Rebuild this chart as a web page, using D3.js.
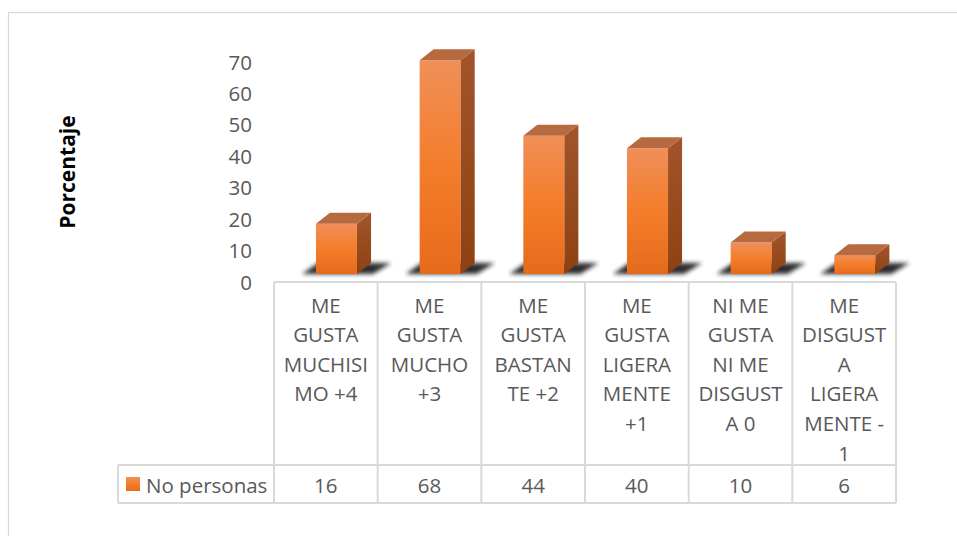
<!DOCTYPE html>
<html><head><meta charset="utf-8">
<script src="https://cdn.jsdelivr.net/npm/d3@7/dist/d3.min.js"></script>
<style>
html,body{margin:0;padding:0;background:#fff;}
svg{display:block;font-family:"Open Sans",sans-serif;}
</style></head>
<body>
<svg id="chart" width="957" height="536"></svg>
<script>
const categories = [
  "ME\nGUSTA\nMUCHISI\nMO +4",
  "ME\nGUSTA\nMUCHO\n+3",
  "ME\nGUSTA\nBASTAN\nTE +2",
  "ME\nGUSTA\nLIGERA\nMENTE\n+1",
  "NI ME\nGUSTA\nNI ME\nDISGUST\nA 0",
  "ME\nDISGUST\nA\nLIGERA\nMENTE -\n1"
];
const values = [16, 68, 44, 40, 10, 6];
const yTicks = [0, 10, 20, 30, 40, 50, 60, 70];
const seriesName = "No personas";
const axisTitle = "Porcentaje";

const svg = d3.select("#chart");
const W = 957, H = 536;
const textColor = "#595959";
const gridColor = "#d9d9d9";
const FS = 20.5;

// frame
svg.append("rect").attr("x", 8.5).attr("y", 12.5).attr("width", W + 10).attr("height", H + 10)
  .attr("fill", "#fff").attr("stroke", gridColor).attr("stroke-width", 1.2);

const defs = svg.append("defs");
const gf = defs.append("linearGradient").attr("id", "gFront").attr("x1", 0).attr("y1", 0).attr("x2", 0).attr("y2", 1);
gf.append("stop").attr("offset", "0%").attr("stop-color", "#f08f58");
gf.append("stop").attr("offset", "50%").attr("stop-color", "#f47d2b");
gf.append("stop").attr("offset", "100%").attr("stop-color", "#e46b1b");
const gs = defs.append("linearGradient").attr("id", "gSide").attr("x1", 0).attr("y1", 0).attr("x2", 0).attr("y2", 1);
gs.append("stop").attr("offset", "0%").attr("stop-color", "#a2552b");
gs.append("stop").attr("offset", "100%").attr("stop-color", "#8e4110");
const blur = defs.append("filter").attr("id", "blur").attr("x", "-50%").attr("y", "-100%").attr("width", "200%").attr("height", "300%");
blur.append("feGaussianBlur").attr("stdDeviation", 2.3);

const tableLeft = 274, tableRight = 896;
const x = d3.scaleBand().domain(d3.range(categories.length)).range([tableLeft, tableRight]).padding(0);
const y = d3.scaleLinear().domain([0, 70]).range([274, 54]);
const bw = x.bandwidth();
const frontOff = bw * 0.405, frontW = bw * 0.396;
const dx = 14, dy = 11;

// y axis labels
const yAxis = d3.axisLeft(y).tickValues(yTicks).tickSize(0).tickPadding(0).tickFormat(d3.format("d"));
const ga = svg.append("g").attr("transform", "translate(252,8.5)").call(yAxis);
ga.select(".domain").remove();
ga.selectAll("text").attr("font-family", "Open Sans").attr("font-size", FS).attr("fill", textColor);

// axis title
svg.append("text").attr("transform", "translate(67,172) rotate(-90)")
  .attr("text-anchor", "middle").attr("dominant-baseline", "central")
  .attr("font-weight", "bold").attr("font-size", 21).attr("fill", "#000").text(axisTitle);

// bars
const bars = svg.append("g").selectAll("g").data(values).join("g");
bars.each(function(v, i) {
  const g = d3.select(this);
  const x0 = x(i) + frontOff, x1 = x0 + frontW;
  const base = y(0), top = y(v);
  g.append("polygon")
    .attr("points", [[x0 - 14, base], [x1 + 16, base], [x1 + dx + 20, base - dy], [x0 + dx - 12, base - dy]].map(p => p.join(",")).join(" "))
    .attr("fill", "#1e1e1e").attr("opacity", 0.92).attr("filter", "url(#blur)");
  g.append("rect").attr("x", x0).attr("y", top).attr("width", frontW).attr("height", base - top).attr("fill", "url(#gFront)");
  g.append("polygon")
    .attr("points", [[x1, top], [x1 + dx, top - dy], [x1 + dx, base - dy], [x1, base]].map(p => p.join(",")).join(" "))
    .attr("fill", "url(#gSide)");
  g.append("polygon")
    .attr("points", [[x0, top], [x0 + dx, top - dy], [x1 + dx, top - dy], [x1, top]].map(p => p.join(",")).join(" "))
    .attr("fill", "#b7693f");
});

// table
const tTop = 282, tMid = 465, tBot = 503, legLeft = 118;
const lines = svg.append("g").attr("stroke", gridColor).attr("stroke-width", 2).attr("fill", "none");
lines.append("line").attr("x1", tableLeft).attr("x2", tableRight).attr("y1", tTop).attr("y2", tTop);
lines.append("line").attr("x1", legLeft).attr("x2", tableRight).attr("y1", tMid).attr("y2", tMid);
lines.append("line").attr("x1", legLeft).attr("x2", tableRight).attr("y1", tBot).attr("y2", tBot);
lines.append("line").attr("x1", legLeft).attr("x2", legLeft).attr("y1", tMid).attr("y2", tBot);
const bounds = d3.range(categories.length).map(i => x(i)).concat([tableRight]);
lines.selectAll("line.v").data(bounds).join("line").attr("class", "v")
  .attr("x1", d => d).attr("x2", d => d).attr("y1", tTop).attr("y2", tBot);

// category labels
const cat = svg.append("g").selectAll("text").data(categories).join("text")
  .attr("text-anchor", "middle").attr("font-size", FS).attr("fill", textColor);
cat.each(function(c, i) {
  const t = d3.select(this);
  c.split("\n").forEach((ln, k) => {
    t.append("tspan").attr("x", x(i) + bw / 2).attr("y", 304.5 + k * 29.6).attr("dominant-baseline", "central").text(ln);
  });
});

// values row
svg.append("g").selectAll("text").data(values).join("text")
  .attr("x", (d, i) => x(i) + bw / 2).attr("y", (tMid + tBot) / 2 + 1)
  .attr("text-anchor", "middle").attr("dominant-baseline", "central")
  .attr("font-size", FS).attr("fill", textColor).text(d => d);

// legend key
svg.append("rect").attr("x", 126).attr("y", 477).attr("width", 14).attr("height", 14).attr("fill", "url(#gFront)");
svg.append("text").attr("x", 146).attr("y", (tMid + tBot) / 2 + 1).attr("dominant-baseline", "central")
  .attr("font-size", FS).attr("fill", textColor).text(seriesName);
</script>
</body></html>
